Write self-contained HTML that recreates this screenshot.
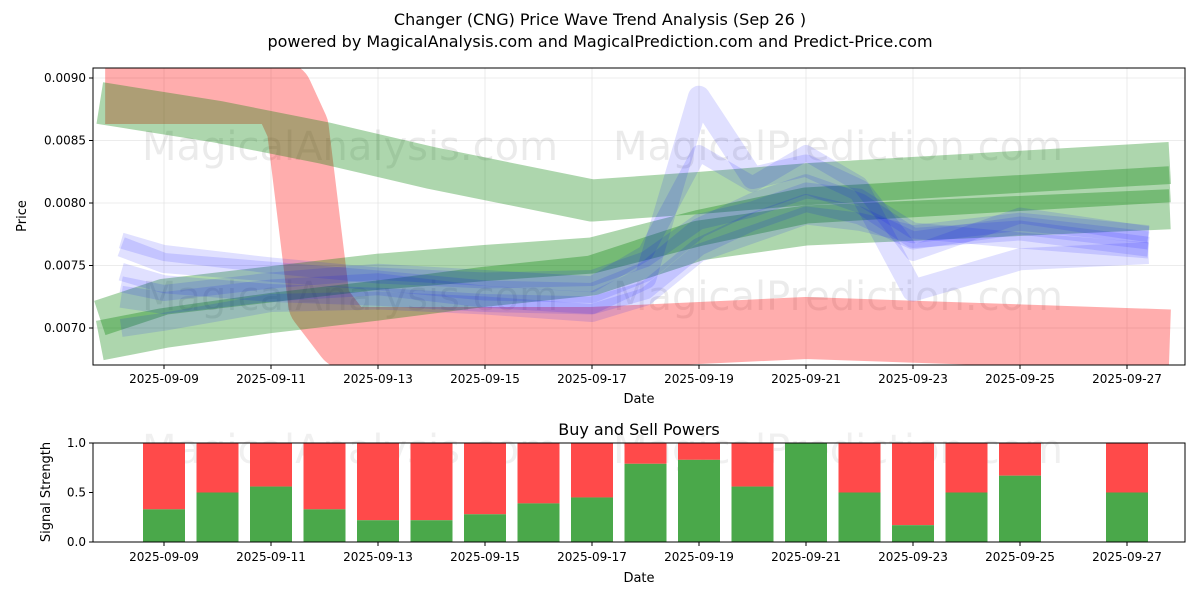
<!DOCTYPE html>
<html><head><meta charset="utf-8">
<style>
body{margin:0;background:#fff;font-family:"Liberation Sans","DejaVu Sans",sans-serif;}
svg text{font-family:"DejaVu Sans","Liberation Sans",sans-serif;}
</style></head>
<body>
<svg id="chart" width="1200" height="600" xmlns="http://www.w3.org/2000/svg">
<defs>
<clipPath id="clipTop"><rect x="93" y="68" width="1092" height="297"/></clipPath>
<clipPath id="clipBot"><rect x="93" y="443" width="1092" height="99"/></clipPath>
</defs>
<rect width="1200" height="600" fill="#fff"/>
<text x="600" y="25" text-anchor="middle" font-size="16">Changer (CNG) Price Wave Trend Analysis (Sep 26 )</text>
<text x="600" y="47" text-anchor="middle" font-size="16">powered by MagicalAnalysis.com and MagicalPrediction.com and Predict-Price.com</text>
<g id="topg"></g>
<g id="botg"></g>
</svg>
<script>
const NS="http://www.w3.org/2000/svg";
// ---- data ----
const xTickDays=[9,11,13,15,17,19,21,23,25,27];
const xTickLabels=["2025-09-09","2025-09-11","2025-09-13","2025-09-15","2025-09-17","2025-09-19","2025-09-21","2025-09-23","2025-09-25","2025-09-27"];
const yTicks=[0.0070,0.0075,0.0080,0.0085,0.0090];
const yTickLabels=["0.0070","0.0075","0.0080","0.0085","0.0090"];
const redDays=[7.9,11.2,11.5,11.9,12.4,17,21,27.8];
const redPrices=[0.00888,0.00888,0.00860,0.00720,0.00692,0.00692,0.00700,0.00690];
const greenADays=[7.8,10.0,12,14,17,19,21,23,27.8];
const greenAPrices=[0.00880,0.00865,0.00848,0.00828,0.00802,0.00808,0.00815,0.00820,0.00832];
const greenBDays=[7.8,9,11,13,15,17,19,21,23,27.8];
const greenBPrices=[0.00708,0.00725,0.00735,0.00745,0.00752,0.00758,0.00780,0.00798,0.00803,0.00815];
const greenCDays=[7.8,9,11,13,15,17,19,21,27.8];
const greenCPrices=[0.00690,0.00700,0.00712,0.00722,0.00733,0.00742,0.00770,0.00782,0.00795];
const blueDays=[8.2,9,11,13,15,17,18,19,20,21,22,23,25,27.4];
const blue1=[0.00765,0.00752,0.00745,0.00738,0.00730,0.00728,0.00745,0.00780,0.00800,0.00815,0.00800,0.00772,0.00778,0.00765];
const blue2=[0.00745,0.00735,0.00728,0.00725,0.00720,0.00718,0.00730,0.00765,0.00785,0.00800,0.00790,0.00770,0.00782,0.00770];
const blue3=[0.00725,0.00720,0.00730,0.00735,0.00725,0.00720,0.00740,0.00885,0.00820,0.00830,0.00810,0.00730,0.00755,0.00760];
const blue4=[0.00735,0.00728,0.00738,0.00745,0.00740,0.00735,0.00760,0.00840,0.00815,0.00840,0.00815,0.00760,0.00790,0.00775];
const blue5=[0.00700,0.00705,0.00720,0.00722,0.00718,0.00712,0.00725,0.00760,0.00775,0.00790,0.00785,0.00775,0.00785,0.00775];
const blue6=[0.00770,0.00760,0.00750,0.00742,0.00738,0.00740,0.00755,0.00785,0.00795,0.00810,0.00805,0.00778,0.00770,0.00762];
const barDays=[9,10,11,12,13,14,15,16,17,18,19,20,21,22,23,24,25,27];
const buyPower=[0.33,0.5,0.56,0.33,0.22,0.22,0.28,0.39,0.45,0.79,0.83,0.56,1.0,0.5,0.17,0.5,0.67,0.5];
const bTicks=[0,0.5,1.0];
const bTickLabels=["0.0","0.5","1.0"];
// ---- axes ----
const X=d=>164+(d-9)*53.5;
const Y=p=>328-(p-0.0070)/0.0005*62.5;
const YB=v=>542-v*99;
function el(t,a,parent){const e=document.createElementNS(NS,t);for(const k in a)e.setAttribute(k,a[k]);parent.appendChild(e);return e;}
const topG=document.getElementById('topg'), botG=document.getElementById('botg');
xTickDays.forEach((d,i)=>{
 const g=el('line',{x1:X(d),x2:X(d),y1:68,y2:365,stroke:'#e6e6e6','stroke-width':0.8},topG);
 
 
 el('line',{x1:X(d),x2:X(d),y1:365,y2:369,stroke:'#000'},topG);
 const tx=el('text',{x:X(d),y:383,'text-anchor':'middle','font-size':12},topG);tx.textContent=xTickLabels[i];
 
 
});
yTicks.forEach((p,i)=>{
 const g=el('line',{x1:93,x2:1185,y1:Y(p),y2:Y(p),stroke:'#e6e6e6','stroke-width':0.8},topG);
 
 
 el('line',{x1:89,x2:93,y1:Y(p),y2:Y(p),stroke:'#000'},topG);
 const tx=el('text',{x:86,y:Y(p)+4,'text-anchor':'end','font-size':12},topG);tx.textContent=yTickLabels[i];
 
 
});
[[350,160,'MagicalAnalysis.com'],[838,160,'MagicalPrediction.com'],[350,310,'MagicalAnalysis.com'],[838,310,'MagicalPrediction.com']].forEach(w=>{
 const t=el('text',{x:w[0],y:w[1],'text-anchor':'middle','font-size':40,fill:'#000','fill-opacity':0.08},topG);t.textContent=w[2];
 
 
});
const series=el('g',{'clip-path':'url(#clipTop)'},topG);
function band(days,prices,color,op,w,name){
 const pts=days.map((d,i)=>X(d)+','+Y(prices[i])).join(' ');
 const e=el('polyline',{points:pts,fill:'none',stroke:color,'stroke-opacity':op,'stroke-width':w,'stroke-linejoin':'round','stroke-linecap':'butt'},series);
 
 
}
band(redDays,redPrices,'#ff0000',0.32,62,'red-wave-band');
band(greenADays,greenAPrices,'#008000',0.32,42,'green-wave-band-upper');
band(greenBDays,greenBPrices,'#008000',0.32,36,'green-wave-band-middle');
band(greenCDays,greenCPrices,'#008000',0.32,40,'green-wave-band-lower');
[[blue1,20],[blue2,18],[blue3,22],[blue4,16],[blue5,18],[blue6,16]].forEach((b,i)=>band(blueDays,b[0],'#0000ff',0.12,b[1],'blue-wave-line-'+(i+1)));
el('rect',{x:93,y:68,width:1092,height:297,fill:'none',stroke:'#000','stroke-width':1},topG);
let tt=el('text',{x:639,y:403,'text-anchor':'middle','font-size':13},topG);tt.textContent='Date';

tt=el('text',{x:26,y:216,'text-anchor':'middle','font-size':13,transform:'rotate(-90 26 216)'},topG);tt.textContent='Price';

tt=el('text',{x:639,y:435,'text-anchor':'middle','font-size':16},botG);tt.textContent='Buy and Sell Powers';

[[350,'MagicalAnalysis.com'],[838,'MagicalPrediction.com']].forEach(w=>{
 const t2=el('text',{x:w[0],y:463,'text-anchor':'middle','font-size':40,fill:'#000','fill-opacity':0.06},botG);t2.textContent=w[1];
 
 
});
const bars=el('g',{'clip-path':'url(#clipBot)'},botG);
barDays.forEach((d,i)=>{
 const w=42,x0=X(d)-w/2;
 const r=el('rect',{x:x0,y:YB(1),width:w,height:YB(buyPower[i])-YB(1),fill:'#ff4a4a'},bars);
 
 
 const g=el('rect',{x:x0,y:YB(buyPower[i]),width:w,height:YB(0)-YB(buyPower[i]),fill:'#4aa84a'},bars);
 
 
});
xTickDays.forEach((d,i)=>{
 el('line',{x1:X(d),x2:X(d),y1:542,y2:546,stroke:'#000'},botG);
 const tx=el('text',{x:X(d),y:561,'text-anchor':'middle','font-size':12},botG);tx.textContent=xTickLabels[i];
 
 
});
bTicks.forEach((v,i)=>{
 el('line',{x1:89,x2:93,y1:YB(v),y2:YB(v),stroke:'#000'},botG);
 const tx=el('text',{x:86,y:YB(v)+4,'text-anchor':'end','font-size':12},botG);tx.textContent=bTickLabels[i];
 
 
});
el('rect',{x:93,y:443,width:1092,height:99,fill:'none',stroke:'#000','stroke-width':1},botG);
tt=el('text',{x:639,y:582,'text-anchor':'middle','font-size':13},botG);tt.textContent='Date';

tt=el('text',{x:50,y:492,'text-anchor':'middle','font-size':13,transform:'rotate(-90 50 492)'},botG);tt.textContent='Signal Strength';

</script>
</body></html>
